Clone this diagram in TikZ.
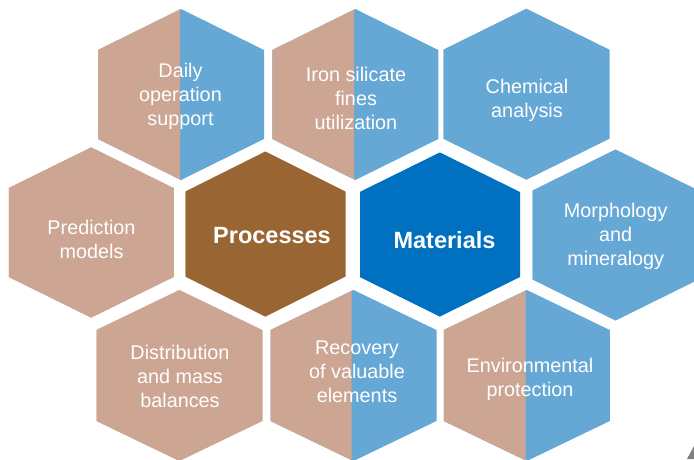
\documentclass[tikz,border=0pt]{standalone}
\usepackage{fontspec}
\setmainfont{Liberation Sans}
\definecolor{tanc}{RGB}{205,165,147}
\definecolor{lblue}{RGB}{101,168,214}
\definecolor{brownc}{RGB}{153,102,51}
\definecolor{dblue}{RGB}{0,112,192}
\definecolor{cornergray}{RGB}{128,128,128}
% #1 cx, #2 cy, #3 half-width, #4 half-height, #5 corner offset, #6 split x, #7 left colour, #8 right colour
\newcommand\myhex[8]{%
  \fill[#8] (#1,#2-#4) -- (#1+#3,#2-#5) -- (#1+#3,#2+#5) -- (#1,#2+#4) -- (#1-#3,#2+#5) -- (#1-#3,#2-#5) -- cycle;
  \fill[#7] (#6,#2-#4) -- (#1,#2-#4) -- (#1-#3,#2-#5) -- (#1-#3,#2+#5) -- (#1,#2+#4) -- (#6,#2+#4) -- cycle;
}
\tikzset{
  lbl/.style={text=white, align=center, font=\fontsize{19.8}{24}\selectfont, inner sep=0pt},
  big/.style={text=white, align=center, font=\fontsize{23.5}{28}\selectfont\bfseries, inner sep=0pt}
}
\begin{document}
\begin{tikzpicture}[x=1pt,y=-1pt]
\useasboundingbox (0,0) rectangle (694,459);
% outer hexagons
\myhex{181}{94.5}{83}{85.5}{44.5}{180}{tanc}{lblue}
\myhex{355.3}{94.5}{83}{85.5}{44.5}{354}{tanc}{lblue}
\myhex{526.5}{94.2}{83}{85.5}{44.5}{526.5}{lblue}{lblue}
\myhex{91.3}{232.5}{82.5}{85.2}{44.5}{91.3}{tanc}{tanc}
\myhex{615.7}{235}{83}{85.5}{44.5}{615.7}{lblue}{lblue}
\myhex{179.5}{375.5}{83}{85.5}{45.5}{179.5}{tanc}{tanc}
\myhex{353.5}{375.5}{83}{85.5}{45.5}{351.7}{tanc}{lblue}
\myhex{526.8}{375.5}{83}{85.5}{45.5}{525.7}{tanc}{lblue}
% central hexagons
\myhex{265.5}{234}{80}{82.5}{42.5}{265.5}{brownc}{brownc}
\myhex{440}{234.5}{80}{82}{42.5}{440}{dblue}{dblue}
% corner fragment
\fill[cornergray] (694,446) -- (694,459) -- (687,459) -- cycle;
% labels
\node[lbl] (daily) at (180.5,96) {Daily\\operation\\support};
\node[lbl] (iron) at (356,98) {Iron silicate\\fines\\utilization};
\node[lbl] (chem) at (527,100.5) {Chemical\\analysis};
\node[lbl] (pred) at (91.5,239) {Prediction\\models};
\node[big] (proc) at (272,236) {Processes};
\node[big] (mat) at (444.5,240) {Materials};
\node[lbl] (morph) at (615.7,236) {Morphology\\and\\mineralogy};
\node[lbl] (dist) at (180,376) {Distribution\\and mass\\balances};
\node[lbl] (rec) at (357,372) {Recovery\\of valuable\\elements};
\node[lbl] (env) at (530,379.5) {Environmental\\protection};
\end{tikzpicture}
\end{document}
